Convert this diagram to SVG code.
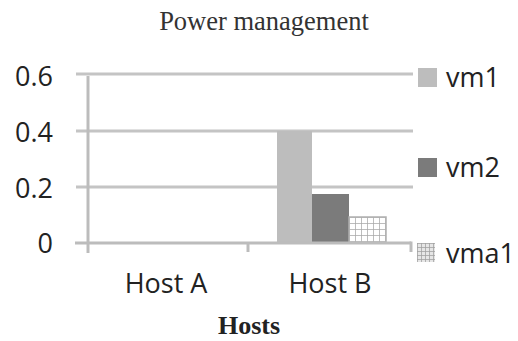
<svg xmlns="http://www.w3.org/2000/svg" width="518" height="341" viewBox="0 0 518 341">
<style>
.grid{stroke:#c4c4c4;stroke-width:3;fill:none}
.axis{stroke:#bcbcbc;stroke-width:3;fill:none}
.lbl{font-family:"Open Sans","Liberation Sans",sans-serif;font-size:27px;fill:#222}
.title{font-family:"Liberation Serif",serif;font-size:26.5px;fill:#333}
.xt{font-family:"Liberation Serif",serif;font-size:26px;font-weight:bold;fill:#222}
</style>
<defs>
<pattern id="chk" width="6" height="6" patternUnits="userSpaceOnUse" x="349" y="217">
<rect width="6" height="6" fill="#fff"/>
<path d="M0 0H6M0 0V6" stroke="#a8a8a8" stroke-width="1.5"/>
</pattern>
<pattern id="chk2" width="4" height="4" patternUnits="userSpaceOnUse" x="417" y="243">
<rect width="4" height="4" fill="#e6e6e6"/>
<path d="M0 0H4M0 0V4" stroke="#a0a0a0" stroke-width="1.5"/>
</pattern>
</defs>
<rect width="518" height="341" fill="#fff"/>
<text class="title" x="264" y="30" text-anchor="middle">Power management</text>
<g id="gridlines">
<line class="grid" x1="76" y1="74" x2="413" y2="74"/>
<line class="grid" x1="76" y1="131" x2="413" y2="131"/>
<line class="grid" x1="76" y1="187" x2="413" y2="187"/>
</g>
<g id="yaxis">
<text class="lbl" x="53" y="86" text-anchor="end">0.6</text>
<text class="lbl" x="53" y="142" text-anchor="end">0.4</text>
<text class="lbl" x="53" y="198" text-anchor="end">0.2</text>
<text class="lbl" x="53" y="253" text-anchor="end">0</text>
</g>
<g id="bars">
<rect x="277" y="131" width="35" height="112" fill="#bdbdbd"/>
<rect x="312" y="194" width="37" height="49" fill="#7b7b7b"/>
<rect x="349" y="217" width="37" height="26" fill="url(#chk)" stroke="#b0b0b0" stroke-width="1.5"/>
</g>
<g id="axes">
<line class="axis" x1="88" y1="76" x2="88" y2="253"/>
<line class="axis" x1="75" y1="243" x2="411" y2="243"/>
<line class="axis" x1="248" y1="243" x2="248" y2="252"/>
<line class="axis" x1="411" y1="241.5" x2="411" y2="252"/>
</g>
<g id="xlabels">
<text class="lbl" x="166" y="293" text-anchor="middle">Host A</text>
<text class="lbl" x="330" y="293" text-anchor="middle">Host B</text>
<text class="xt" x="249" y="334" text-anchor="middle">Hosts</text>
</g>
<g id="legend">
<rect x="418" y="68" width="19" height="19" fill="#bdbdbd"/>
<text class="lbl" x="446" y="87">vm1</text>
<rect x="418" y="158" width="19" height="19" fill="#7b7b7b"/>
<text class="lbl" x="446" y="177">vm2</text>
<rect x="417" y="243" width="18" height="19" fill="url(#chk2)"/>
<text class="lbl" x="446" y="263">vma1</text>
</g>
</svg>
